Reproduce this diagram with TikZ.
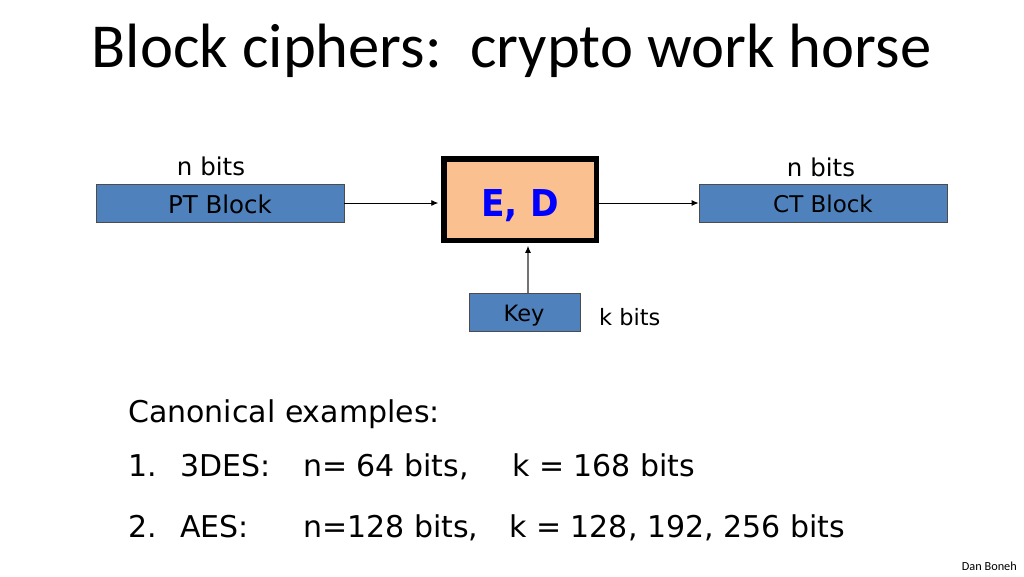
\documentclass[tikz,border=0pt]{standalone}
\usepackage{fontspec}
\setmainfont{DejaVu Sans}
\newfontfamily\titlefont{Carlito}
\usetikzlibrary{arrows.meta}
\definecolor{blockblue}{HTML}{4F81BD}
\definecolor{peach}{HTML}{FAC090}
\definecolor{edblue}{HTML}{0000FF}
\tikzset{
  blockbox/.style={draw=black!70, line width=0.8pt, fill=blockblue, inner sep=0},
  lbl/.style={inner sep=0, anchor=base, font=\fontsize{24.5}{29}\selectfont},
  rowtxt/.style={inner sep=0, anchor=base west, font=\fontsize{30}{36}\selectfont},
  conn/.style={line width=0.9pt, -{Latex[length=7pt,width=6pt]}}
}
\begin{document}
\begin{tikzpicture}[x=1pt,y=-1pt]
\useasboundingbox[fill=white] (0,0) rectangle (1024,576);
% title
\node[inner sep=0, anchor=base, font=\titlefont\fontsize{62.6}{70}\selectfont] (title) at (511.5,67) {Block ciphers:\ \ crypto work horse};
% blocks
\node[blockbox, minimum width=248pt, minimum height=38pt] (pt) at (220,203) {};
\node[lbl] (pttext) at (220,213) {PT Block};
\node[lbl] (ntop1) at (211,175) {n bits};
\node[blockbox, minimum width=248pt, minimum height=38pt] (ct) at (823,203) {};
\node[lbl, font=\fontsize{23}{28}\selectfont] (cttext) at (823,212) {CT Block};
\node[lbl] (ntop2) at (821,176) {n bits};
\node[draw=black, line width=5.5pt, fill=peach, minimum width=152.5pt, minimum height=81.5pt, inner sep=0] (ed) at (520,199.5) {};
\node[inner sep=0, anchor=base, text=edblue, font=\bfseries\fontsize{37}{44}\selectfont] (edtext) at (520,216) {\scalebox{0.93}[1]{E, D}};
\node[blockbox, minimum width=111pt, minimum height=38pt] (key) at (524.5,312) {};
\node[lbl, font=\fontsize{22.5}{27}\selectfont] (keytext) at (524,321) {Key};
\node[inner sep=0, anchor=base west, font=\fontsize{22.5}{27}\selectfont] (kbits) at (599,325) {k bits};
% connectors
\draw[conn, shorten >=2.75pt] (pt.east) -- (pt.east -| ed.west);
\draw[conn, shorten <=-2.75pt] (ct.west -| ed.east) -- (ct.west);
\draw[line width=1.2pt, draw=black!55, -{Latex[length=7pt,width=6pt,black]}, shorten >=2.75pt] (key.north -| 528,0) -- (ed.south -| 528,0);
% examples
\node[rowtxt] (canon) at (128,422) {Canonical examples:};
\node[rowtxt] (r1a) at (128,476) {1.};
\node[rowtxt] (r1b) at (180,476) {3DES:};
\node[rowtxt] (r1c) at (303,476) {n= 64 bits,};
\node[rowtxt] (r1d) at (512,476) {k = 168 bits};
\node[rowtxt] (r2a) at (128,537) {2.};
\node[rowtxt] (r2b) at (180,537) {AES:};
\node[rowtxt] (r2c) at (303,537) {n=128 bits,};
\node[rowtxt] (r2d) at (509,537) {k = 128, 192, 256 bits};
\node[inner sep=0, anchor=base east, font=\titlefont\fontsize{12.3}{14}\selectfont] (author) at (1017,570) {Dan Boneh};
\end{tikzpicture}
\end{document}
